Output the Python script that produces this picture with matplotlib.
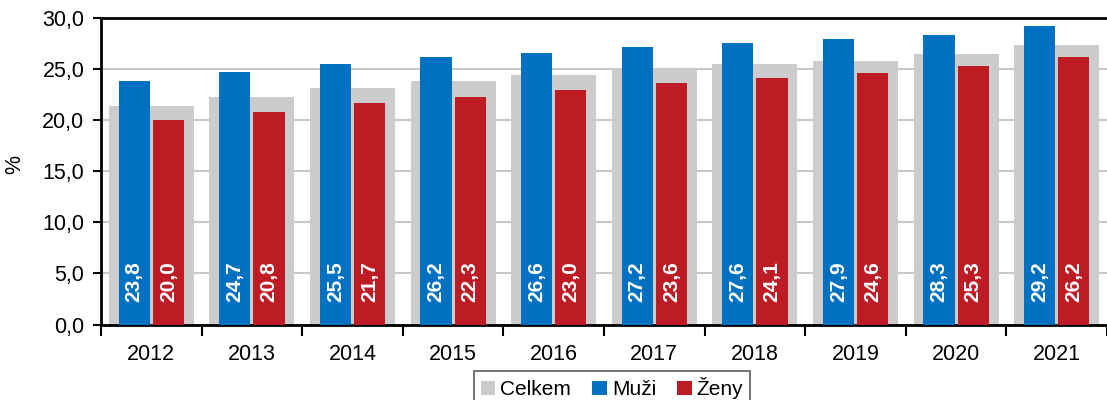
import matplotlib
matplotlib.use("Agg")
import matplotlib.pyplot as plt
import numpy as np

plt.rcParams['font.family'] = ['Liberation Sans', 'DejaVu Sans']

years = ['2012', '2013', '2014', '2015', '2016', '2017', '2018', '2019', '2020', '2021']
celkem = [21.4, 22.3, 23.1, 23.8, 24.4, 25.0, 25.5, 25.8, 26.5, 27.4]
muzi = [23.8, 24.7, 25.5, 26.2, 26.6, 27.2, 27.6, 27.9, 28.3, 29.2]
zeny = [20.0, 20.8, 21.7, 22.3, 23.0, 23.6, 24.1, 24.6, 25.3, 26.2]

c_gray = '#cccccc'
c_blue = '#0070c0'
c_red = '#be1c24'

fig = plt.figure(figsize=(11.07, 4.0), dpi=100)
ax = fig.add_axes([101/1107, 75.5/400, 1006/1107, 306.5/400])

x = np.arange(len(years))
ax.bar(x, celkem, width=0.845, color=c_gray, label='Celkem', zorder=2)
ax.bar(x - 0.17, muzi, width=0.31, color=c_blue, label='Muži', zorder=3)
ax.bar(x + 0.17, zeny, width=0.31, color=c_red, label='Ženy', zorder=3)

for xi, v in zip(x, muzi):
    ax.text(xi - 0.17, 2.2, f'{v:.1f}'.replace('.', ','), rotation=90, ha='center', va='bottom',
            color='white', fontsize=15, fontweight='bold', zorder=4)
for xi, v in zip(x, zeny):
    ax.text(xi + 0.17, 2.2, f'{v:.1f}'.replace('.', ','), rotation=90, ha='center', va='bottom',
            color='white', fontsize=15, fontweight='bold', zorder=4)

ax.set_xlim(-0.5, 9.5)
ax.set_ylim(0, 30)
ax.set_yticks(np.arange(0, 31, 5))
ax.set_yticklabels([f'{v:.1f}'.replace('.', ',') for v in np.arange(0, 31, 5)], fontsize=15.5)
ax.yaxis.grid(True, color='#c8c8c8', linewidth=1.5, zorder=0)
ax.set_axisbelow(True)

ax.set_xticks(x)
ax.set_xticklabels(years, fontsize=15.5)
ax.tick_params(axis='x', which='major', length=0, pad=14)
ax.set_xticks(np.arange(-0.5, 10, 1), minor=True)
ax.tick_params(axis='x', which='minor', length=8, width=1.5, direction='out')
ax.tick_params(axis='y', length=6, width=1.5, direction='out', pad=6)

for s in ['left', 'bottom', 'top']:
    ax.spines[s].set_linewidth(2)
    ax.spines[s].set_color('black')
ax.spines['right'].set_visible(False)

fig.text(15/1107, 1 - 165/400, '%', rotation=90, ha='center', va='center', fontsize=15.5)

leg = ax.legend(loc='upper center', bbox_to_anchor=(0.508, -0.118), ncol=3, fontsize=15,
                frameon=True, fancybox=False, edgecolor='#333333', handlelength=0.7,
                handleheight=0.7, handletextpad=0.25, columnspacing=1.0, borderpad=0.3)
leg.get_frame().set_linewidth(1.2)

fig.savefig('out.png', dpi=100)
